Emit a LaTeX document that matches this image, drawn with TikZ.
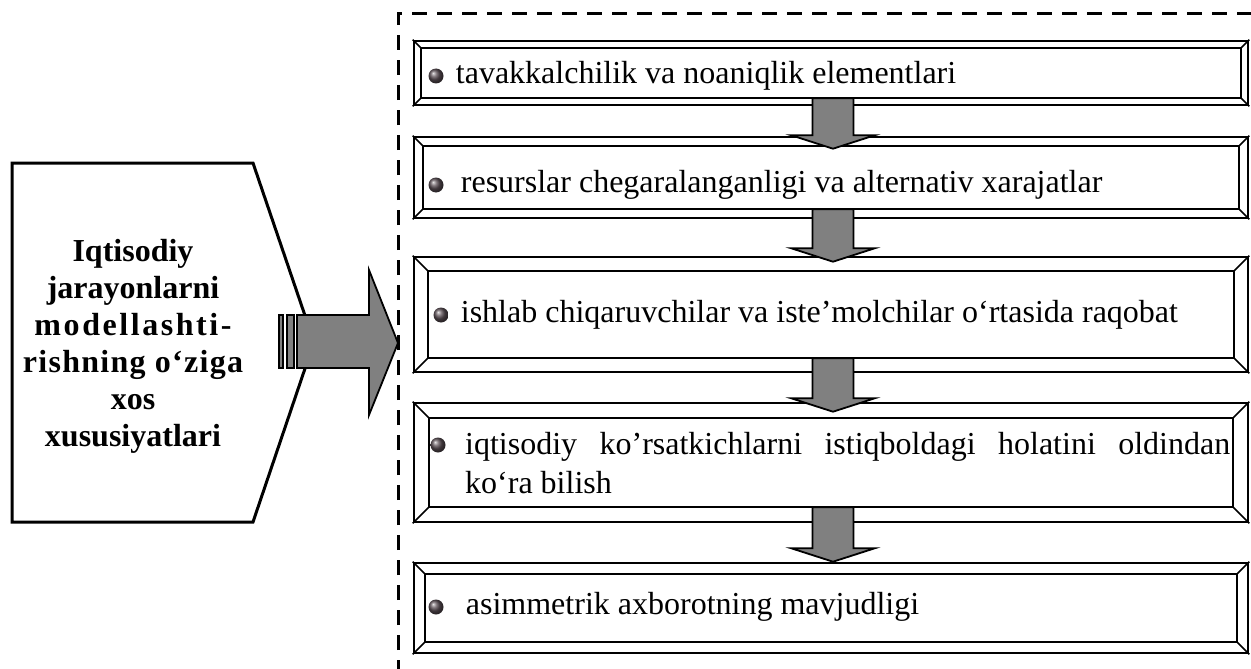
\documentclass[tikz,border=0pt]{standalone}
\usepackage{fontspec}
\setmainfont{Liberation Serif}
\usetikzlibrary{positioning,calc}
\definecolor{arrowgray}{RGB}{128,128,128}
\definecolor{bulletgray}{RGB}{90,78,84}

\begin{document}
\begin{tikzpicture}[x=1pt,y=-1pt,
        framebox/.style={draw=black, line width=2.6pt, fill=white, minimum width=834pt, inner sep=0pt},
        bevel/.style={line width=1.7pt},
        dot/.style={circle, inner sep=0pt, minimum size=15pt, shading=ball, ball color=bulletgray},
        item/.style={anchor=west, inner sep=0pt, font=\fontsize{32pt}{39pt}\selectfont},
        blockarrow/.style={draw=black, line width=1.8pt, fill=arrowgray, line join=miter}]
        \useasboundingbox (0,0) rectangle (1251,669);
        % dashed group frame
        \draw[line width=3pt, dash pattern=on 15pt off 10pt] (398,700) |- (1280,14);
        % left block
        \draw[line width=3pt, line join=miter, fill=white] (12,163) -- (253,163) -- (314,342) -- (253,522) -- (12,522) -- cycle;
        \node[align=center, inner sep=0pt, font=\bfseries\fontsize{32pt}{37pt}\selectfont] (lead) at (133,346)
            {Iqtisodiy\\jarayonlarni\\{\addfontfeature{LetterSpace=8}modellashti-}\\{\addfontfeature{LetterSpace=4}rishning o‘ziga}\\xos\\xususiyatlari};
        % arrow into the frame
        \draw[blockarrow] (297,315) -- (369,315) -- (369,270) -- (398,343) -- (369,415) -- (369,368) -- (297,368) -- cycle;
        \draw[blockarrow] (287,315) rectangle (294,368);
        \draw[blockarrow] (279,315) rectangle (283,368);
        % bevelled boxes
        \node[framebox, minimum height=64pt] (b1) at (831,73) {};
        \node[framebox, minimum height=81pt] (b2) at (831,177.5) {};
        \node[framebox, minimum height=115pt] (b3) at (831,314.5) {};
        \node[framebox, minimum height=119pt] (b4) at (831,462.5) {};
        \node[framebox, minimum height=90pt] (b5) at (831,608) {};
        \foreach \b/\d in {b1/8,b2/10,b3/15,b4/16,b5/12}{
            \draw[bevel] ($(\b.north west)+(\d,\d)$) rectangle ($(\b.south east)+(-\d,-\d)$);
            \draw[bevel] (\b.north west) -- ++(\d,\d) (\b.north east) -- ++(-\d,\d)
                (\b.south west) -- ++(\d,-\d) (\b.south east) -- ++(-\d,-\d);
        }
        % items
        \node[dot] (d1) at (436,76) {};
        \node[item, right=12pt of d1] (t1) {tavakkalchilik va noaniqlik elementlari};
        \node[dot] (d2) at (436,185) {};
        \node[item, right=17pt of d2] (t2) {resurslar chegaralanganligi va alternativ xarajatlar};
        \node[dot] (d3) at (441,315) {};
        \node[item, right=12pt of d3] (t3) {ishlab chiqaruvchilar va iste’molchilar o‘rtasida raqobat};
        \node[dot] (d4) at (438,445) {};
        \node[item, anchor=north west, text width=765pt, align=justify] (t4) at (465,432)
            {iqtisodiy ko’rsatkichlarni istiqboldagi holatini oldindan\linebreak ko‘ra bilish};
        \node[dot] (d5) at (436,607) {};
        \node[item, right=22pt of d5] (t5) {asimmetrik axborotning mavjudligi};
        % down arrows between the boxes
        \foreach \a/\b/\s/\t in {b1/b2/8/13, b2/b3/10/6, b3/b4/15/10, b4/b5/16/0}{
            \coordinate (shaft) at ($(\a.south)+(2,-\s)$);
            \coordinate (tip) at ($(\b.north)+(2,\t)$);
            \draw[blockarrow] ($(shaft)+(-20.5,0)$) -- ($(shaft|-tip)+(-20.5,-13.5)$) -- ($(tip)+(-42,-13.5)$) -- (tip)
                -- ($(tip)+(42,-13.5)$) -- ($(shaft|-tip)+(20.5,-13.5)$) -- ($(shaft)+(20.5,0)$) -- cycle;
        }
\end{tikzpicture}
\end{document}
